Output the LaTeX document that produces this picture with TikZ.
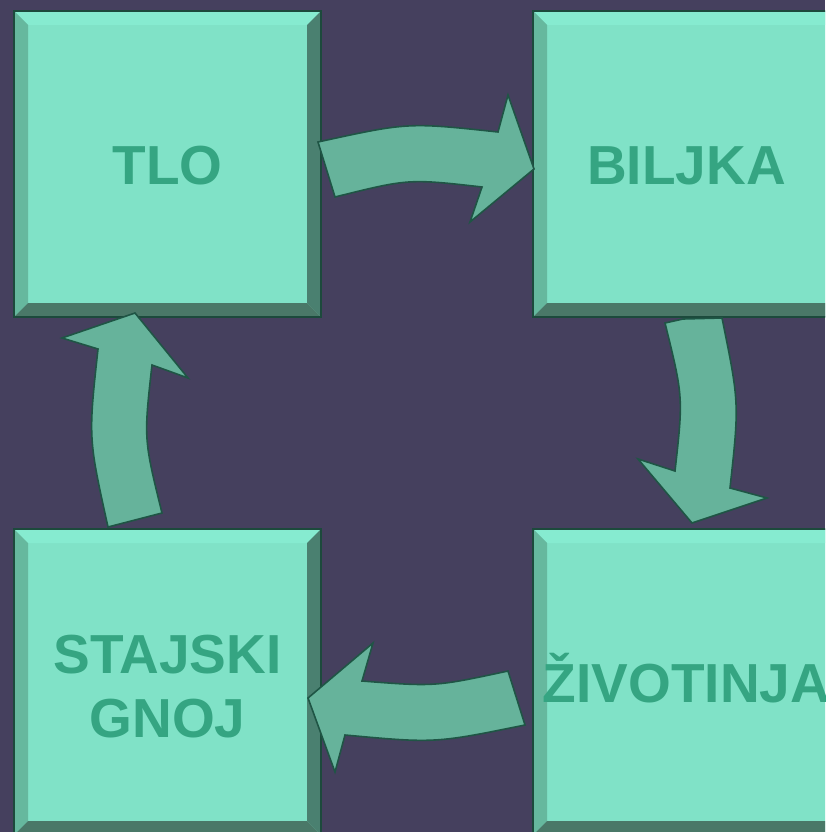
\documentclass[tikz,border=0pt]{standalone}
\usepackage{fontspec}
\setmainfont{Liberation Sans}
\usetikzlibrary{calc}
\definecolor{bg}{HTML}{45405E}
\definecolor{face}{HTML}{80E2C7}
\definecolor{btop}{HTML}{86EBD0}
\definecolor{bleft}{HTML}{66B89E}
\definecolor{bright}{HTML}{4A8070}
\definecolor{bbot}{HTML}{4A7868}
\definecolor{edge}{HTML}{1C4A3C}
\definecolor{txt}{HTML}{35A582}
\definecolor{afill}{HTML}{66B39B}
\definecolor{aedge}{HTML}{1F5545}
\tikzset{
  bevelbox/.style={minimum width=307pt, minimum height=306pt, inner sep=0pt,
    fill=face, draw=edge, line width=1.5pt, text=txt, align=center,
    font=\fontsize{55}{64}\selectfont\bfseries,
    path picture={
      \coordinate (nw) at (path picture bounding box.north west);
      \coordinate (ne) at (path picture bounding box.north east);
      \coordinate (sw) at (path picture bounding box.south west);
      \coordinate (se) at (path picture bounding box.south east);
      \fill[btop] (nw) -- (ne) -- ($(ne)+(-14pt,-14pt)$) -- ($(nw)+(14pt,-14pt)$) -- cycle;
      \fill[bleft] (nw) -- ($(nw)+(14pt,-14pt)$) -- ($(sw)+(14pt,14pt)$) -- (sw) -- cycle;
      \fill[bright] (ne) -- (se) -- ($(se)+(-14pt,14pt)$) -- ($(ne)+(-14pt,-14pt)$) -- cycle;
      \fill[bbot] (sw) -- (se) -- ($(se)+(-14pt,14pt)$) -- ($(sw)+(14pt,14pt)$) -- cycle;
    }},
  oneline/.style={text height=40pt, text depth=0pt},
  curvearrow/.style={fill=afill, draw=aedge, line width=1.6pt, line join=miter}
}
\begin{document}
\begin{tikzpicture}[x=1pt,y=-1pt]
\fill[bg] (0,0) rectangle (825,832);
\useasboundingbox (0,0) rectangle (825,832);
\clip (0,0) rectangle (825,832);
\node[bevelbox, oneline] (tlo) at (167.5,164) {TLO};
\node[bevelbox, oneline] (biljka) at (686.5,164) {BILJKA};
\node[bevelbox, text height=110pt, text depth=0pt] (gnoj) at (167.5,682) {STAJSKI\\GNOJ};
\node[bevelbox, oneline] (zivotinja) at (686.5,682) {ŽIVOTINJA};
% TLO -> BILJKA
\draw[curvearrow] (318,142) .. controls (408,122.3) .. (498,132) -- (508,95) -- (534,169)
  -- (470,222) -- (482,187) .. controls (408.5,178.7) .. (335,197) -- cycle;
% BILJKA -> ZIVOTINJA
\draw[curvearrow] (722,318) .. controls (739.3,403) .. (730,488) -- (767,498) -- (692,523)
  -- (638,459) -- (675,471) .. controls (683.3,397) .. (665,323) -- (683,319) -- cycle;
% ZIVOTINJA -> STAJSKI GNOJ
\draw[curvearrow] (525,725) .. controls (435,743.3) .. (345,735) -- (335,772) -- (308,698)
  -- (373,643) -- (362,681) .. controls (435,686.7) .. (508,671) -- cycle;
% STAJSKI GNOJ -> TLO
\draw[curvearrow] (108,527) .. controls (88.3,438) .. (98,349) -- (62,338) -- (135,313)
  -- (188,378) -- (152,365) .. controls (143.7,439) .. (162,513) -- cycle;
\end{tikzpicture}
\end{document}
